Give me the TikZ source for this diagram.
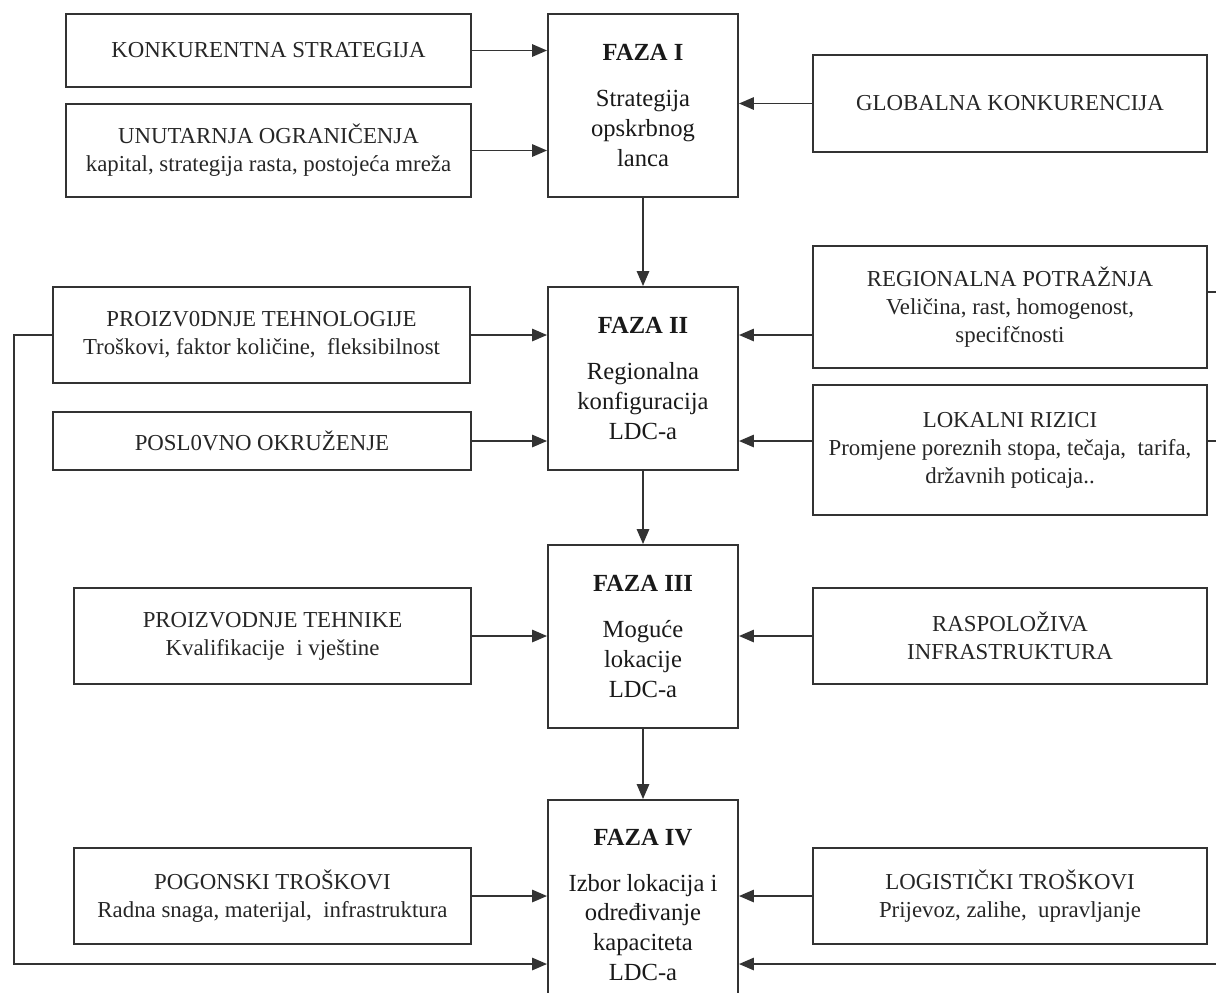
\documentclass[tikz,border=0pt]{standalone}
\usepackage{fontspec}
\setmainfont{Liberation Serif}
\usetikzlibrary{arrows.meta}

\begin{document}
\begin{tikzpicture}[x=0.02cm,y=-0.02cm]
\tikzstyle{every node}+=[inner sep=0pt]
\tikzstyle{faktor}=[draw=black!80,line width=1.1pt,align=center,text=black!85,font=\fontsize{13}{16}\selectfont]
\tikzstyle{faza}=[draw=black!80,line width=1.1pt,align=center,text=black!90,minimum width=3.8cm,minimum height=3.66cm,font=\fontsize{14}{17}\selectfont]
\tikzstyle{veza}=[black!80,line width=1.1pt,-{Triangle[length=8.5pt,width=7pt]}]
\tikzstyle{linija}=[black!80,line width=1.1pt]
\useasboundingbox (0,0) rectangle (1216,992);
\clip (0,0) rectangle (1216,992);
% faze
\node [faza] (faza1) at (643,105.5) {\textbf{FAZA I}\\[9pt] Strategija\\ opskrbnog\\ lanca};
\node [faza] (faza2) at (643,378.5) {\textbf{FAZA II}\\[9pt] Regionalna\\ konfiguracija\\ LDC-a};
\node [faza] (faza3) at (643,636.5) {\textbf{FAZA III}\\[9pt] Moguće\\ lokacije\\ LDC-a};
\node [faza,minimum height=4.2cm] (faza4) at (643,905) {\textbf{FAZA IV}\\[9pt] Izbor lokacija i\\ određivanje\\ kapaciteta\\ LDC-a};
% lijevi faktori
\node [faktor,minimum width=8.1cm,minimum height=1.46cm] (konk) at (268.5,50.5) {KONKURENTNA STRATEGIJA};
\node [faktor,minimum width=8.1cm,minimum height=1.86cm] (unut) at (268.5,150.5) {UNUTARNJA OGRANIČENJA\\ kapital, strategija rasta, postojeća mreža};
\node [faktor,minimum width=8.34cm,minimum height=1.92cm] (tehn) at (261.5,335) {PROIZV0DNJE TEHNOLOGIJE\\ Troškovi, faktor količine, \ fleksibilnost};
\node [faktor,minimum width=8.36cm,minimum height=1.16cm] (posl) at (262,441) {POSL0VNO OKRUŽENJE};
\node [faktor,minimum width=7.94cm,minimum height=1.92cm] (tehnike) at (272.5,636) {PROIZVODNJE TEHNIKE\\ Kvalifikacije \ i vještine};
\node [faktor,minimum width=7.94cm,minimum height=1.92cm] (pogon) at (272.5,896) {POGONSKI TROŠKOVI\\ Radna snaga, materijal, \ infrastruktura};
% desni faktori
\node [faktor,minimum width=7.88cm,minimum height=1.94cm] (glob) at (1010,103.5) {GLOBALNA KONKURENCIJA};
\node [faktor,minimum width=7.88cm,minimum height=2.44cm] (regio) at (1010,307) {REGIONALNA POTRAŽNJA\\ Veličina, rast, homogenost,\\ specifčnosti};
\node [faktor,minimum width=7.88cm,minimum height=2.6cm] (lokal) at (1010,450) {LOKALNI RIZICI\\ Promjene poreznih stopa, tečaja, \ tarifa,\\ državnih poticaja..};
\node [faktor,minimum width=7.88cm,minimum height=1.92cm] (rasp) at (1010,636) {RASPOLOŽIVA\\ INFRASTRUKTURA};
\node [faktor,minimum width=7.88cm,minimum height=1.92cm] (logist) at (1010,896) {LOGISTIČKI TROŠKOVI\\ Prijevoz, zalihe, \ upravljanje};
\coordinate (rub1) at (1216,292);
\coordinate (rub2) at (1216,441);
\coordinate (rub3) at (1216,964);
\coordinate (petlja) at (14,964);
% veze
\draw [veza] (faza1) -- (faza2);
\draw [veza] (faza2) -- (faza3);
\draw [veza] (faza3) -- (faza4);
\draw [veza] (konk) -- (konk -| faza1.west);
\draw [veza] (unut) -- (unut -| faza1.west);
\draw [veza] (glob) -- (glob -| faza1.east);
\draw [veza] (tehn) -- (tehn -| faza2.west);
\draw [veza] (posl) -- (posl -| faza2.west);
\draw [veza] (regio.west |- tehn) -- (faza2.east |- tehn);
\draw [veza] (lokal.west |- posl) -- (faza2.east |- posl);
\draw [veza] (tehnike) -- (tehnike -| faza3.west);
\draw [veza] (rasp) -- (rasp -| faza3.east);
\draw [veza] (pogon) -- (pogon -| faza4.west);
\draw [veza] (logist) -- (logist -| faza4.east);
\draw [linija] (regio.east |- rub1) -- (rub1);
\draw [linija] (lokal.east |- rub2) -- (rub2);
\draw [veza] (rub3) -- (rub3 -| faza4.east);
\draw [veza] (tehn.west) -| (petlja) -- (petlja -| faza4.west);
\end{tikzpicture}
\end{document}
